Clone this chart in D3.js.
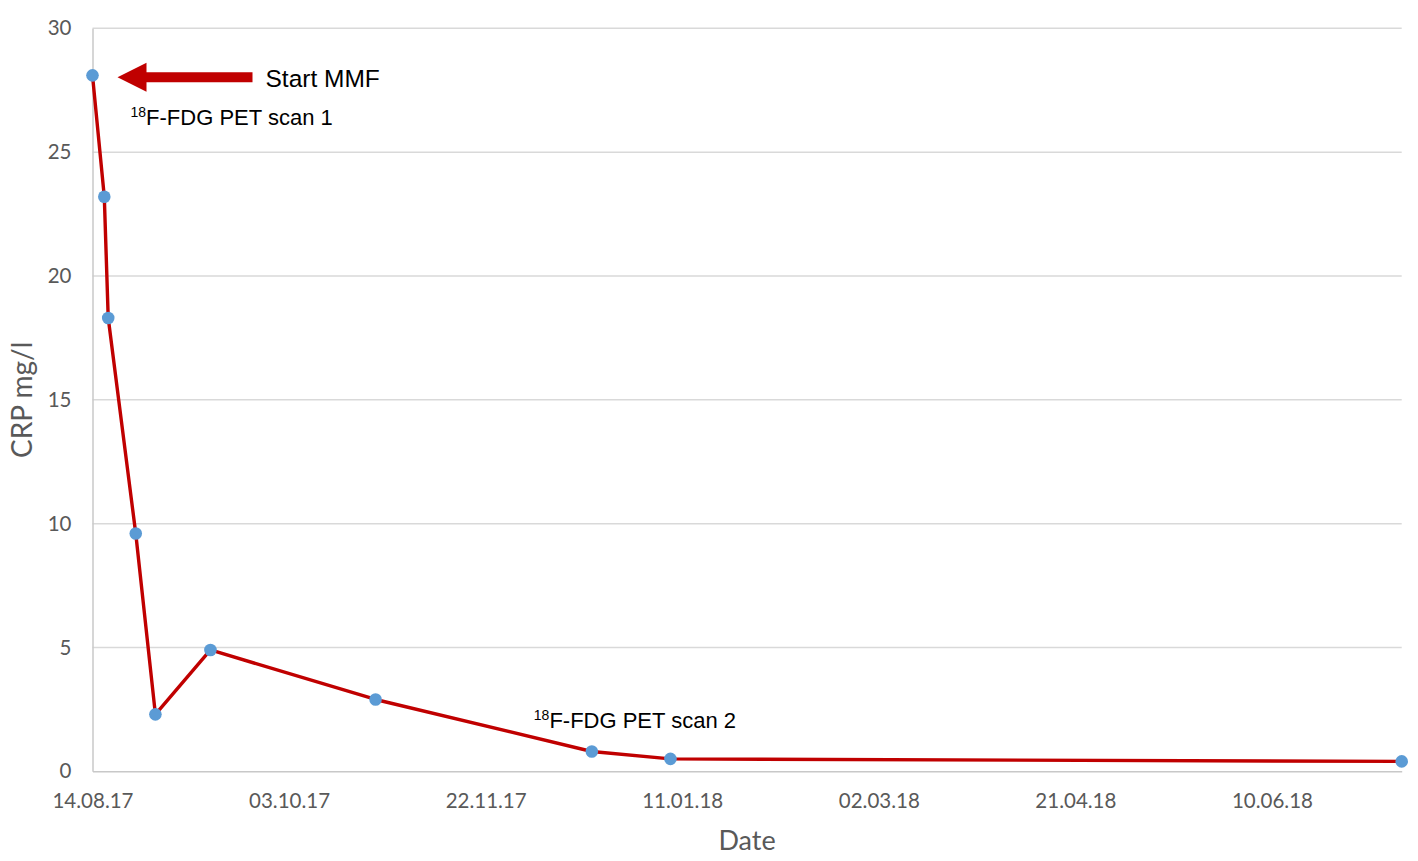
<!DOCTYPE html>
<html>
<head>
<meta charset="utf-8">
<script src="https://cdn.jsdelivr.net/npm/d3@7"></script>
<style>
  html, body { margin: 0; padding: 0; background: #ffffff; }
  svg { display: block; }
</style>
</head>
<body>
<svg id="chart" width="1418" height="861"></svg>
<script>
// ---- Data ----
const dates = ["14.08.17", "17.08.17", "18.08.17", "25.08.17", "30.08.17", "13.09.17", "25.10.17", "19.12.17", "08.01.18", "13.07.18"];
const crp = [28.1, 23.2, 18.3, 9.6, 2.3, 4.9, 2.9, 0.8, 0.5, 0.4];
const yTicks = [0, 5, 10, 15, 20, 25, 30];
const xTickLabels = ["14.08.17", "03.10.17", "22.11.17", "11.01.18", "02.03.18", "21.04.18", "10.06.18"];
const yTitle = "CRP mg/l";
const xTitle = "Date";

// ---- Layout ----
const W = 1418, H = 861;
const m = { left: 92.5, right: 1418 - 1401.7, top: 28.3, bottom: 861 - 771.3 };
const parse = d3.utcParse("%d.%m.%y");
const fmt = d3.utcFormat("%d.%m.%y");
const data = dates.map((d, i) => ({ date: parse(d), v: crp[i] }));

const svg = d3.select("#chart");
const x = d3.scaleUtc()
  .domain([data[0].date, data[data.length - 1].date])
  .range([m.left, W - m.right]);
const y = d3.scaleLinear().domain([0, 30]).range([H - m.bottom, m.top]);

const tickFont = "Lato, 'Open Sans', sans-serif";
const gray = "#595959";

// gridlines
svg.append("g")
  .selectAll("line")
  .data(yTicks.filter(t => t > 0))
  .join("line")
  .attr("x1", m.left).attr("x2", W - m.right)
  .attr("y1", d => y(d)).attr("y2", d => y(d))
  .attr("stroke", "#d9d9d9").attr("stroke-width", 1.5);

// y axis
const yAxis = svg.append("g")
  .attr("transform", `translate(${m.left},0)`)
  .call(d3.axisLeft(y).tickValues(yTicks).tickSize(0).tickPadding(21));
yAxis.select(".domain").attr("stroke", "#c8c8c8").attr("stroke-width", 1.5);
yAxis.selectAll("text").attr("fill", gray).style("font-family", tickFont).style("font-size", "20.5px");

// x axis
const xTickDates = xTickLabels.map(parse);
const xAxis = svg.append("g")
  .attr("transform", `translate(0,${H - m.bottom})`)
  .call(d3.axisBottom(x).tickValues(xTickDates).tickFormat(fmt).tickSize(0).tickPadding(22));
xAxis.select(".domain").attr("stroke", "#c8c8c8").attr("stroke-width", 1.5);
xAxis.selectAll("text").attr("fill", gray).style("font-family", tickFont).style("font-size", "20.5px");

// axis titles
svg.append("text")
  .attr("x", (m.left + W - m.right) / 2).attr("y", 850)
  .attr("text-anchor", "middle")
  .attr("fill", gray)
  .style("font-family", tickFont).style("font-size", "27px")
  .text(xTitle);

svg.append("text")
  .attr("transform", `translate(32,${(m.top + H - m.bottom) / 2}) rotate(-90)`)
  .attr("text-anchor", "middle")
  .attr("fill", gray)
  .style("font-family", tickFont).style("font-size", "28px")
  .text(yTitle);

// line
const line = d3.line().x(d => x(d.date)).y(d => y(d.v));
svg.append("path")
  .datum(data)
  .attr("d", line)
  .attr("fill", "none")
  .attr("stroke", "#c00000")
  .attr("stroke-width", 3.4)
  .attr("stroke-linejoin", "round");

// markers
svg.append("g")
  .selectAll("circle")
  .data(data)
  .join("circle")
  .attr("cx", d => x(d.date)).attr("cy", d => y(d.v))
  .attr("r", 6.3)
  .attr("fill", "#5b9bd5");

// ---- Annotations ----
const annFont = "'Liberation Sans', Arial, sans-serif";
const p0 = data[0];
const ax = x(p0.date), ay = y(p0.v) + 2;
// arrow: tip near first point, pointing left
const tipX = ax + 25, headLen = 29, headH = 29, shaftH = 10, tailX = ax + 160;
svg.append("path")
  .attr("d", `M${tipX},${ay} L${tipX + headLen},${ay - headH / 2} L${tipX + headLen},${ay - shaftH / 2} L${tailX},${ay - shaftH / 2} L${tailX},${ay + shaftH / 2} L${tipX + headLen},${ay + shaftH / 2} L${tipX + headLen},${ay + headH / 2} Z`)
  .attr("fill", "#c00000");

svg.append("text")
  .attr("x", ax + 173).attr("y", ay + 10)
  .attr("fill", "#000")
  .style("font-family", annFont).style("font-size", "24.5px")
  .text("Start MMF");

function scanLabel(xp, yp, n) {
  const t = svg.append("text")
    .attr("x", xp).attr("y", yp)
    .attr("fill", "#000")
    .style("font-family", annFont).style("font-size", "22px");
  t.append("tspan").attr("dy", -8).style("font-size", "14px").text("18");
  t.append("tspan").attr("dy", 8).text(`F-FDG PET scan ${n}`);
}
scanLabel(ax + 38, 125, 1);
const p7 = data[7];
scanLabel(x(p7.date) - 58, y(p7.v) - 23, 2);
</script>
</body>
</html>
